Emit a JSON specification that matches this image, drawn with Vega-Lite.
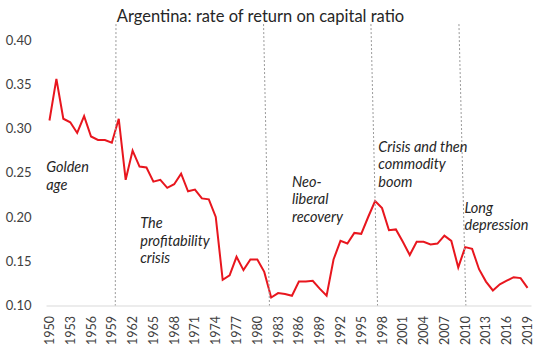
{
  "$schema": "https://vega.github.io/schema/vega-lite/v6.json",
  "width": 485,
  "height": 265.5,
  "autosize": {"type": "none"},
  "padding": {"left": 46, "top": 40, "right": 9, "bottom": 45.5},
  "background": "white",
  "title": {
    "text": "Argentina: rate of return on capital ratio",
    "font": "Lato",
    "fontSize": 16.5,
    "fontWeight": "normal",
    "color": "#262626",
    "anchor": "middle",
    "dx": -28,
    "offset": 2,
    "dy": 17,
    "baseline": "alphabetic"
  },
  "datasets": {
    "series": [
      {"year": 1950, "value": 0.309}, {"year": 1951, "value": 0.356}, {"year": 1952, "value": 0.311},
      {"year": 1953, "value": 0.307}, {"year": 1954, "value": 0.295}, {"year": 1955, "value": 0.314},
      {"year": 1956, "value": 0.291}, {"year": 1957, "value": 0.287}, {"year": 1958, "value": 0.287},
      {"year": 1959, "value": 0.284}, {"year": 1960, "value": 0.311}, {"year": 1961, "value": 0.242},
      {"year": 1962, "value": 0.275}, {"year": 1963, "value": 0.257}, {"year": 1964, "value": 0.256},
      {"year": 1965, "value": 0.240}, {"year": 1966, "value": 0.242}, {"year": 1967, "value": 0.233},
      {"year": 1968, "value": 0.237}, {"year": 1969, "value": 0.249}, {"year": 1970, "value": 0.229},
      {"year": 1971, "value": 0.231}, {"year": 1972, "value": 0.221}, {"year": 1973, "value": 0.220},
      {"year": 1974, "value": 0.200}, {"year": 1975, "value": 0.129}, {"year": 1976, "value": 0.134},
      {"year": 1977, "value": 0.155}, {"year": 1978, "value": 0.140}, {"year": 1979, "value": 0.152},
      {"year": 1980, "value": 0.152}, {"year": 1981, "value": 0.138}, {"year": 1982, "value": 0.109},
      {"year": 1983, "value": 0.114}, {"year": 1984, "value": 0.113}, {"year": 1985, "value": 0.111},
      {"year": 1986, "value": 0.127}, {"year": 1987, "value": 0.127}, {"year": 1988, "value": 0.128},
      {"year": 1989, "value": 0.119}, {"year": 1990, "value": 0.111}, {"year": 1991, "value": 0.152},
      {"year": 1992, "value": 0.173}, {"year": 1993, "value": 0.170}, {"year": 1994, "value": 0.182},
      {"year": 1995, "value": 0.181}, {"year": 1996, "value": 0.200}, {"year": 1997, "value": 0.218},
      {"year": 1998, "value": 0.210}, {"year": 1999, "value": 0.185}, {"year": 2000, "value": 0.186},
      {"year": 2001, "value": 0.172}, {"year": 2002, "value": 0.157}, {"year": 2003, "value": 0.172},
      {"year": 2004, "value": 0.172}, {"year": 2005, "value": 0.169}, {"year": 2006, "value": 0.170},
      {"year": 2007, "value": 0.179}, {"year": 2008, "value": 0.173}, {"year": 2009, "value": 0.143},
      {"year": 2010, "value": 0.166}, {"year": 2011, "value": 0.164}, {"year": 2012, "value": 0.141},
      {"year": 2013, "value": 0.127}, {"year": 2014, "value": 0.117}, {"year": 2015, "value": 0.124},
      {"year": 2016, "value": 0.128}, {"year": 2017, "value": 0.132}, {"year": 2018, "value": 0.131},
      {"year": 2019, "value": 0.120}
    ],
    "dividers": [
      {"yearTop": 1959.6, "yearBottom": 1959.5, "top": 0.418, "bottom": 0.1},
      {"yearTop": 1980.9, "yearBottom": 1981.75, "top": 0.418, "bottom": 0.1},
      {"yearTop": 1996.4, "yearBottom": 1997.35, "top": 0.418, "bottom": 0.1},
      {"yearTop": 2009.1, "yearBottom": 2010.1, "top": 0.418, "bottom": 0.1}
    ],
    "notes": [
      {"year": 1949.52, "value": 0.2508, "label": "Golden\nage"},
      {"year": 1963.1, "value": 0.1872, "label": "The\nprofitability\ncrisis"},
      {"year": 1985.0, "value": 0.2342, "label": "Neo-\nliberal\nrecovery"},
      {"year": 1997.47, "value": 0.2738, "label": "Crisis and then\ncommodity\nboom"},
      {"year": 2009.9, "value": 0.2049, "label": "Long\ndepression"}
    ]
  },
  "encoding": {
    "x": {
      "field": "year", "type": "quantitative",
      "scale": {"domain": [1949.5, 2019.5], "nice": false, "zero": false},
      "axis": {
        "title": null,
        "values": [1950, 1953, 1956, 1959, 1962, 1965, 1968, 1971, 1974, 1977, 1980, 1983, 1986, 1989, 1992, 1995, 1998, 2001, 2004, 2007, 2010, 2013, 2016, 2019],
        "tickCount": 100,
        "format": "d",
        "labelAngle": 270,
        "labelAlign": "right",
        "labelBaseline": "middle",
        "labelFont": "Lato",
        "labelFontSize": 12.5,
        "labelColor": "#404040",
        "labelPadding": 10,
        "labelBound": false,
        "labelFlush": false,
        "ticks": false,
        "grid": false,
        "domainColor": "#d9d9d9",
        "domainWidth": 1,
        "labelOverlap": false
      }
    },
    "y": {
      "field": "value", "type": "quantitative",
      "scale": {"domain": [0.1, 0.4], "nice": false, "zero": false},
      "axis": {
        "title": null,
        "values": [0.1, 0.15, 0.2, 0.25, 0.3, 0.35, 0.4],
        "tickCount": 20,
        "format": ".2f",
        "labelFont": "Lato",
        "labelFontSize": 13,
        "labelColor": "#404040",
        "labelPadding": 15,
        "domain": false,
        "ticks": false,
        "grid": false,
        "labelOverlap": false
      }
    }
  },
  "layer": [
    {
      "data": {"name": "series"},
      "mark": {"type": "line", "color": "#e8161e", "strokeWidth": 2}
    },
    {
      "data": {"name": "dividers"},
      "mark": {"type": "rule", "color": "#9a9a9a", "strokeWidth": 1, "strokeDash": [2, 2]},
      "encoding": {
        "x": {"field": "yearTop", "type": "quantitative", "axis": {"title": null}},
        "x2": {"field": "yearBottom"},
        "y": {"field": "top", "type": "quantitative", "axis": {"title": null}},
        "y2": {"field": "bottom"}
      }
    },
    {
      "data": {"name": "notes"},
      "mark": {"type": "text", "align": "left", "baseline": "alphabetic", "font": "Lato", "fontStyle": "italic", "fontSize": 14.5, "lineHeight": 17.5, "lineBreak": "\n", "color": "#262626"},
      "encoding": {
        "text": {"field": "label"}
      }
    }
  ],
  "config": {
    "view": {"stroke": null},
    "font": "Lato"
  }
}
